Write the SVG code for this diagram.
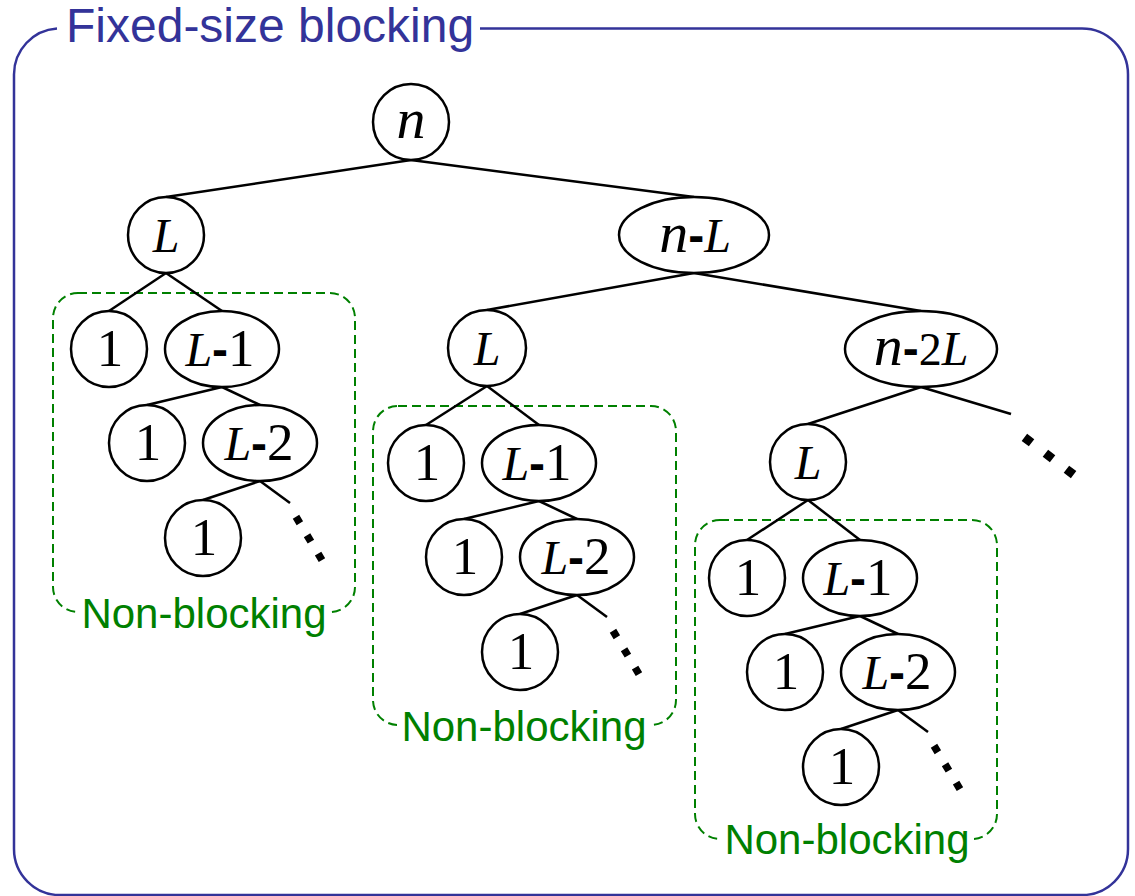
<svg xmlns="http://www.w3.org/2000/svg" width="1135" height="896" viewBox="0 0 1135 896">
  <style>
    .frame { fill: none; stroke: #333399; stroke-width: 2.5; }
    .title { font-family: "Liberation Sans", Arial, sans-serif; font-size: 48px; fill: #333399; }
    .group-box { fill: none; stroke: #008000; stroke-width: 2; stroke-dasharray: 9 5; }
    .group-label { font-family: "Liberation Sans", Arial, sans-serif; font-size: 42px; fill: #008000; text-anchor: middle; }
    .label-bg { fill: #ffffff; }
    .edge { stroke: #000000; stroke-width: 2.5; fill: none; }
    .more { stroke: #000000; stroke-width: 7.5; fill: none; stroke-dasharray: 7.5 14; }
    .more-big { stroke: #000000; stroke-width: 9; fill: none; stroke-dasharray: 9 17.4; }
    .node { fill: #ffffff; stroke: #000000; stroke-width: 2.5; }
    .val { font-family: "Liberation Serif", "Times New Roman", serif; font-size: 53px; fill: #000000; text-anchor: middle; }
    .it { font-style: italic; font-size: 48px; }
    .var-n { font-style: italic; font-size: 58px; }
    .minus { font-family: "Liberation Sans", Arial, sans-serif; font-weight: bold; font-size: 48px; }
  </style>

  <!-- outer frame with its title -->
  <g id="frame">
    <path class="frame" d="M480,28.5 H1082 A46,46 0 0 1 1128,74.5 V849 A46,46 0 0 1 1082,895 H60 A46,46 0 0 1 14,849 V74.5 A46,46 0 0 1 57,28.5"/>
    <text class="title" x="66" y="42">Fixed-size blocking</text>
  </g>

  <!-- non-blocking regions -->
  <g id="region-1">
    <rect class="group-box" x="53" y="293" width="302" height="319" rx="25"/>
  </g>
  <g id="region-2">
    <rect class="group-box" x="373" y="406" width="303" height="319" rx="25"/>
  </g>
  <g id="region-3">
    <rect class="group-box" x="695" y="520" width="302" height="319" rx="25"/>
  </g>

  <!-- tree edges -->
  <g id="connectors">
    <line class="edge" x1="411" y1="160" x2="166" y2="197"/>
    <line class="edge" x1="411" y1="160" x2="694" y2="197"/>
    <line class="edge" x1="694" y1="273" x2="487" y2="310"/>
    <line class="edge" x1="694" y1="273" x2="921" y2="311"/>
    <line class="edge" x1="921" y1="387" x2="808" y2="424"/>
    <line class="edge" x1="921" y1="387" x2="1011" y2="414"/>
    <path class="more-big" d="M1024.4,437.3 L1073.6,474.7"/>

    <line class="edge" x1="166" y1="273" x2="109" y2="311"/>
    <line class="edge" x1="166" y1="273" x2="222" y2="311"/>
    <line class="edge" x1="222" y1="387" x2="147" y2="405"/>
    <line class="edge" x1="222" y1="387" x2="260" y2="405"/>
    <line class="edge" x1="260" y1="481" x2="203" y2="500"/>
    <line class="edge" x1="260" y1="481" x2="290" y2="503"/>
    <path class="more" d="M296,516.8 L322,560.2"/>

    <line class="edge" x1="487" y1="386" x2="426" y2="425"/>
    <line class="edge" x1="487" y1="386" x2="539" y2="425"/>
    <line class="edge" x1="539" y1="501" x2="464" y2="519"/>
    <line class="edge" x1="539" y1="501" x2="577" y2="519"/>
    <line class="edge" x1="577" y1="595" x2="520" y2="614"/>
    <line class="edge" x1="577" y1="595" x2="607" y2="617"/>
    <path class="more" d="M613,630.8 L639,674.2"/>

    <line class="edge" x1="808" y1="500" x2="747" y2="540"/>
    <line class="edge" x1="808" y1="500" x2="860" y2="540"/>
    <line class="edge" x1="860" y1="616" x2="785" y2="634"/>
    <line class="edge" x1="860" y1="616" x2="898" y2="634"/>
    <line class="edge" x1="898" y1="710" x2="841" y2="729"/>
    <line class="edge" x1="898" y1="710" x2="928" y2="732"/>
    <path class="more" d="M934,745.8 L960,789.2"/>
  </g>

  <!-- top of the tree -->
  <g id="node-n">
    <ellipse class="node" cx="411" cy="122" rx="38" ry="38"/>
    <text class="val" x="411" y="138"><tspan class="var-n">n</tspan></text>
  </g>
  <g id="node-L-1">
    <ellipse class="node" cx="166" cy="235" rx="38" ry="38"/>
    <text class="val" x="166" y="252"><tspan class="it">L</tspan></text>
  </g>
  <g id="node-n-L">
    <ellipse class="node" cx="694" cy="235" rx="75" ry="38"/>
    <text class="val" x="695" y="252"><tspan class="var-n">n</tspan><tspan class="minus">-</tspan><tspan class="it">L</tspan></text>
  </g>
  <g id="node-L-2">
    <ellipse class="node" cx="487" cy="348" rx="39" ry="38"/>
    <text class="val" x="487" y="365"><tspan class="it">L</tspan></text>
  </g>
  <g id="node-n-2L">
    <ellipse class="node" cx="921" cy="349" rx="76" ry="38"/>
    <text class="val" x="921" y="365"><tspan class="var-n">n</tspan><tspan class="minus">-</tspan><tspan font-size="46">2</tspan><tspan class="it">L</tspan></text>
  </g>
  <g id="node-L-3">
    <ellipse class="node" cx="808" cy="462" rx="38" ry="38"/>
    <text class="val" x="808" y="479"><tspan class="it">L</tspan></text>
  </g>

  <!-- first block -->
  <g id="node-a1">
    <ellipse class="node" cx="109" cy="349" rx="38" ry="38"/>
    <text class="val" x="110" y="366">1</text>
  </g>
  <g id="node-a-L1">
    <ellipse class="node" cx="222" cy="349" rx="57" ry="38"/>
    <text class="val" x="220" y="366"><tspan class="it">L</tspan><tspan class="minus">-</tspan>1</text>
  </g>
  <g id="node-a2">
    <ellipse class="node" cx="147" cy="443" rx="38" ry="38"/>
    <text class="val" x="148" y="460">1</text>
  </g>
  <g id="node-a-L2">
    <ellipse class="node" cx="260" cy="443" rx="57" ry="38"/>
    <text class="val" x="259" y="460"><tspan class="it">L</tspan><tspan class="minus">-</tspan>2</text>
  </g>
  <g id="node-a3">
    <ellipse class="node" cx="203" cy="538" rx="38" ry="38"/>
    <text class="val" x="204" y="555">1</text>
  </g>

  <!-- second block -->
  <g id="node-b1">
    <ellipse class="node" cx="426" cy="463" rx="38" ry="38"/>
    <text class="val" x="427" y="480">1</text>
  </g>
  <g id="node-b-L1">
    <ellipse class="node" cx="539" cy="463" rx="57" ry="38"/>
    <text class="val" x="537" y="480"><tspan class="it">L</tspan><tspan class="minus">-</tspan>1</text>
  </g>
  <g id="node-b2">
    <ellipse class="node" cx="464" cy="557" rx="38" ry="38"/>
    <text class="val" x="465" y="574">1</text>
  </g>
  <g id="node-b-L2">
    <ellipse class="node" cx="577" cy="557" rx="57" ry="38"/>
    <text class="val" x="576" y="574"><tspan class="it">L</tspan><tspan class="minus">-</tspan>2</text>
  </g>
  <g id="node-b3">
    <ellipse class="node" cx="520" cy="652" rx="38" ry="38"/>
    <text class="val" x="521" y="669">1</text>
  </g>

  <!-- third block -->
  <g id="node-c1">
    <ellipse class="node" cx="747" cy="578" rx="38" ry="38"/>
    <text class="val" x="748" y="595">1</text>
  </g>
  <g id="node-c-L1">
    <ellipse class="node" cx="860" cy="578" rx="57" ry="38"/>
    <text class="val" x="858" y="595"><tspan class="it">L</tspan><tspan class="minus">-</tspan>1</text>
  </g>
  <g id="node-c2">
    <ellipse class="node" cx="785" cy="672" rx="38" ry="38"/>
    <text class="val" x="786" y="689">1</text>
  </g>
  <g id="node-c-L2">
    <ellipse class="node" cx="898" cy="672" rx="57" ry="38"/>
    <text class="val" x="897" y="689"><tspan class="it">L</tspan><tspan class="minus">-</tspan>2</text>
  </g>
  <g id="node-c3">
    <ellipse class="node" cx="841" cy="767" rx="38" ry="38"/>
    <text class="val" x="842" y="784">1</text>
  </g>

  <!-- region captions, set over the dashed borders -->
  <g id="caption-1">
    <rect class="label-bg" x="77" y="597" width="254" height="44"/>
    <text class="group-label" x="204" y="628">Non-blocking</text>
  </g>
  <g id="caption-2">
    <rect class="label-bg" x="397" y="710" width="254" height="44"/>
    <text class="group-label" x="524" y="741">Non-blocking</text>
  </g>
  <g id="caption-3">
    <rect class="label-bg" x="720" y="824" width="254" height="44"/>
    <text class="group-label" x="847" y="854">Non-blocking</text>
  </g>
</svg>
